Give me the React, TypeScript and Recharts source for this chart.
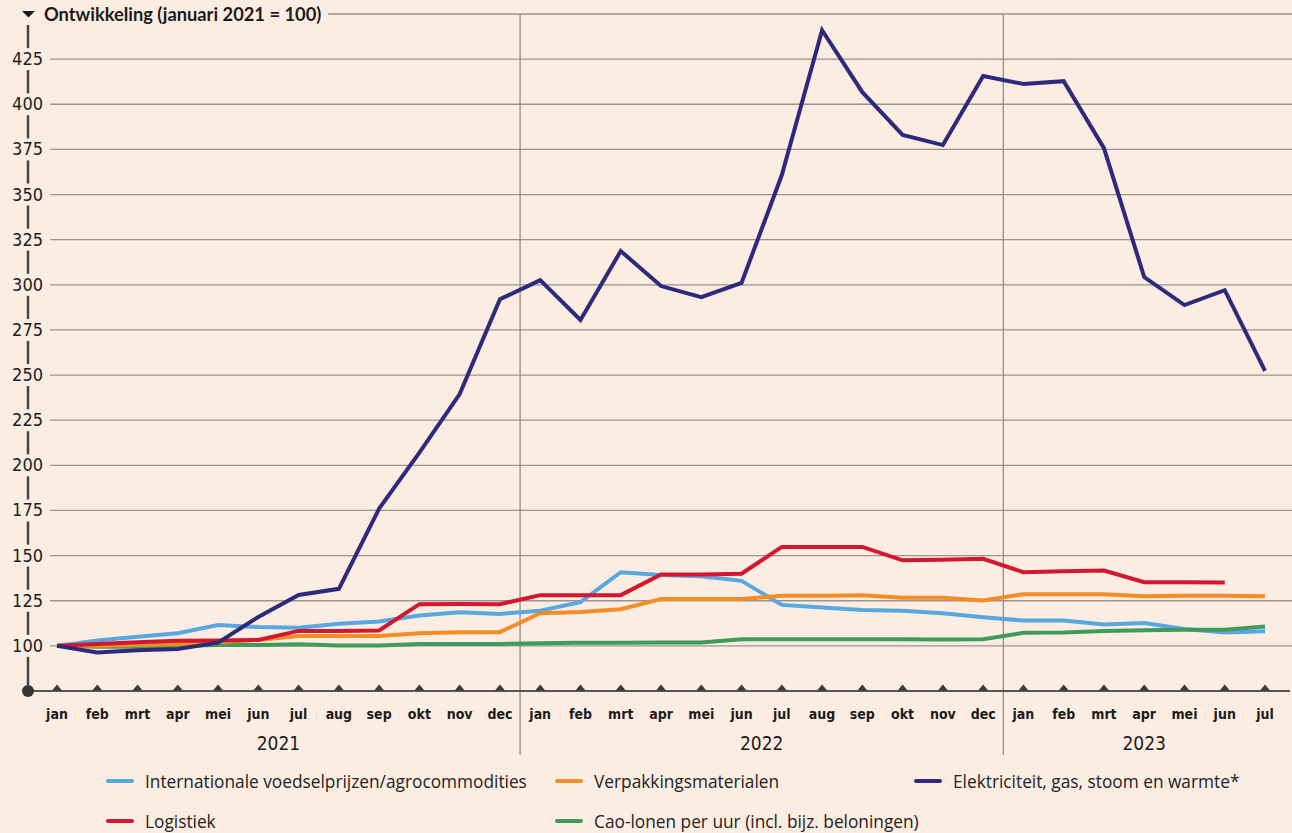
import React from 'react';
import { LineChart, Line, XAxis, YAxis, ReferenceLine, ReferenceDot } from 'recharts';

const monthNames = ['jan', 'feb', 'mrt', 'apr', 'mei', 'jun', 'jul', 'aug', 'sep', 'okt', 'nov', 'dec'];
const monthLabels = [...monthNames, ...monthNames, ...monthNames.slice(0, 7)];
const yearLabels = ['2021', '2022', '2023'];
const yearCenters = [5.5, 17.5, 27];
const yearBreaks = [11.5, 23.5];
const yTicks = [100, 125, 150, 175, 200, 225, 250, 275, 300, 325, 350, 375, 400, 425];
const gridValues = [...yTicks, 450];

const foodPrices = [100, 103, 105, 107, 111.5, 110.4, 110, 112.2, 113.5, 116.8, 118.6, 117.7, 119.5, 124.2, 140.8, 139.3, 138.6, 136, 122.7, 121.2, 119.8, 119.4, 118.1, 115.9, 114, 114, 111.8, 112.7, 109.4, 107.4, 108.1];
const packaging = [100, 100, 100.5, 101, 102, 103.3, 105.5, 105.5, 105.5, 107, 107.5, 107.6, 118.1, 118.8, 120.3, 125.9, 126, 126, 127.7, 127.8, 128.1, 126.6, 126.6, 125.1, 128.6, 128.6, 128.6, 127.5, 127.7, 127.7, 127.5];
const energy = [100, 96.3, 97.6, 98.3, 101.8, 116, 128.2, 131.6, 176, 207, 239.5, 292, 302.6, 280.5, 318.7, 299.3, 293.2, 301, 360.8, 441, 406.7, 383, 377.4, 415.6, 411.2, 412.8, 375.7, 304.3, 288.8, 297, 252.3];
const logistics = [100, 101, 102, 102.8, 103, 103.3, 108.3, 108.3, 108.5, 123.1, 123.2, 123.1, 128.1, 128.1, 128.1, 139.5, 139.5, 140, 154.8, 154.8, 154.8, 147.4, 147.7, 148.2, 140.8, 141.4, 141.7, 135.3, 135.3, 135.1, null];
const wages = [100, 99.5, 99.5, 100, 100.5, 100.5, 100.9, 100.2, 100.2, 101, 101.1, 101.1, 101.5, 101.7, 101.7, 101.8, 101.9, 103.7, 103.7, 103.7, 103.7, 103.6, 103.5, 103.7, 107.2, 107.4, 108.3, 108.6, 108.9, 108.9, 110.7];

const seriesMeta = [
  { key: 'food', name: 'Internationale voedselprijzen/agrocommodities', color: '#58A7DF' },
  { key: 'packaging', name: 'Verpakkingsmaterialen', color: '#F28D27' },
  { key: 'energy', name: 'Elektriciteit, gas, stoom en warmte*', color: '#2D2A7C' },
  { key: 'logistics', name: 'Logistiek', color: '#D2172F' },
  { key: 'wages', name: 'Cao-lonen per uur (incl. bijz. beloningen)', color: '#3F9B5C' },
];
const drawOrder = ['food', 'wages', 'packaging', 'logistics', 'energy'];

const data = monthLabels.map((m, i) => ({
  i,
  month: m,
  food: foodPrices[i],
  packaging: packaging[i],
  energy: energy[i],
  logistics: logistics[i],
  wages: wages[i],
}));

const BG = '#FCEDE2';
const W = 1292;
const H = 833;
const PLOT_TOP = 14;
const PLOT_BOTTOM = 691;
const AXIS_X = 28;
const LABEL_RIGHT = 43;
const PX_PER_UNIT = (PLOT_BOTTOM - PLOT_TOP) / 375;
const TICK_GAP = 25 * PX_PER_UNIT;
const condensed = "'DejaVu Sans Condensed', 'Liberation Sans Narrow', 'DejaVu Sans', sans-serif";
const legendFont = "'Open Sans', 'Liberation Sans', sans-serif";

const YTick = (props: any) => {
  const { y, payload } = props;
  const v = payload.value;
  const segs: any[] = [];
  if (v === 425) {
    segs.push(<line key="top" x1={AXIS_X} x2={AXIS_X} y1={PLOT_TOP + 11} y2={y - 11} stroke="#444" strokeWidth={2.5} />);
  }
  const below = v === 100 ? PLOT_BOTTOM - 4 : y + TICK_GAP - 11;
  segs.push(<line key="b" x1={AXIS_X} x2={AXIS_X} y1={y + 11} y2={below} stroke="#444" strokeWidth={2.5} />);
  return (
    <g>
      {segs}
      <text x={LABEL_RIGHT} y={y} dy={6} textAnchor="end" fontFamily={condensed} fontSize={18} fill="#1b1b1b">
        {v}
      </text>
    </g>
  );
};

const MonthTick = (props: any) => {
  const { x, y, payload } = props;
  const label = monthLabels[payload.value];
  if (label === undefined) return null;
  return (
    <g>
      <polygon points={`${x - 5},${y - 0.5} ${x + 5},${y - 0.5} ${x},${y - 6.5}`} fill="#3a3a3a" />
      <text x={x} y={y + 28} textAnchor="middle" fontFamily={condensed} fontWeight={700} fontSize={14} fill="#1b1b1b">
        {label}
      </text>
    </g>
  );
};

const YearTick = (props: any) => {
  const { x, y, payload } = props;
  const idx = yearCenters.indexOf(payload.value);
  if (idx < 0) return null;
  return (
    <text x={x} y={y + 19} textAnchor="middle" fontFamily={condensed} fontSize={19} fill="#1b1b1b">
      {yearLabels[idx]}
    </text>
  );
};

const legendPos = [
  { left: 106, top: 781 },
  { left: 555, top: 781 },
  { left: 914, top: 781 },
  { left: 106, top: 821 },
  { left: 555, top: 821 },
];

export default function App() {
  return (
    <div style={{ position: 'absolute', left: 0, top: 0, width: W, height: H, background: BG, overflow: 'hidden' }}>
      <LineChart
        width={W}
        height={H}
        data={data}
        margin={{ top: PLOT_TOP, right: 0, left: 0, bottom: 72 }}
      >
        <XAxis
          dataKey="i"
          type="number"
          domain={[-0.1738, 30.67]}
          allowDataOverflow
          ticks={data.map((d) => d.i)}
          interval={0}
          height={40}
          tickSize={0}
          tickMargin={0}
          axisLine={false}
          tickLine={false}
          tick={<MonthTick />}
        />
        <XAxis
          xAxisId="yr"
          dataKey="i"
          type="number"
          domain={[-0.1738, 30.67]}
          allowDataOverflow
          ticks={yearCenters}
          interval={0}
          height={30}
          tickSize={0}
          tickMargin={0}
          axisLine={false}
          tickLine={false}
          tick={<YearTick />}
        />
        <YAxis
          type="number"
          domain={[75, 450]}
          allowDataOverflow
          ticks={yTicks}
          interval={0}
          width={50}
          tickSize={0}
          tickMargin={0}
          axisLine={false}
          tickLine={false}
          tick={<YTick />}
        />
        {gridValues.map((v) => (
          <ReferenceLine key={'g' + v} y={v} stroke="#9a9390" strokeWidth={1.3} ifOverflow="visible" />
        ))}
        {yearBreaks.map((b) => (
          <ReferenceLine
            key={'b' + b}
            segment={[{ x: b, y: 450 }, { x: b, y: 39.5 }]}
            stroke="#8a8583"
            strokeWidth={1.2}
            ifOverflow="visible"
          />
        ))}
        <ReferenceLine
          segment={[{ x: -0.72, y: 75 }, { x: 30.62, y: 75 }]}
          stroke="#555"
          strokeWidth={2}
          ifOverflow="visible"
        />
        <ReferenceDot x={-0.72} y={75} r={6} fill="#333" stroke="none" ifOverflow="visible" />
        {drawOrder.map((k) => {
          const s = seriesMeta.find((m) => m.key === k)!;
          return (
            <Line
              key={k}
              type="linear"
              dataKey={k}
              name={s.name}
              stroke={s.color}
              strokeWidth={4}
              dot={false}
              activeDot={false}
              isAnimationActive={false}
              connectNulls={false}
            />
          );
        })}
      </LineChart>
      <div
        style={{
          position: 'absolute',
          left: 18,
          top: 3,
          height: 22,
          paddingRight: 7,
          background: BG,
          display: 'flex',
          alignItems: 'center',
          fontFamily: "'Lato', 'Open Sans', sans-serif",
          fontWeight: 700,
          fontSize: 18.3,
          color: '#1b1b1b',
          whiteSpace: 'nowrap',
        }}
      >
        <svg width={22} height={22} style={{ display: 'block' }}>
          <polygon points="4,8 17,8 10.5,14.5" fill="#1b1b1b" />
        </svg>
        <span style={{ marginLeft: 4 }}>Ontwikkeling (januari 2021 = 100)</span>
      </div>
      {seriesMeta.map((s, idx) => (
        <div
          key={s.key}
          style={{
            position: 'absolute',
            left: legendPos[idx].left,
            top: legendPos[idx].top - 12,
            height: 24,
            display: 'flex',
            alignItems: 'center',
            fontFamily: legendFont,
            fontSize: 17.3,
            color: '#222',
            whiteSpace: 'nowrap',
          }}
        >
          <span style={{ display: 'inline-block', width: 28, height: 4, borderRadius: 2, background: s.color, marginRight: 11 }} />
          <span>{s.name}</span>
        </div>
      ))}
    </div>
  );
}
